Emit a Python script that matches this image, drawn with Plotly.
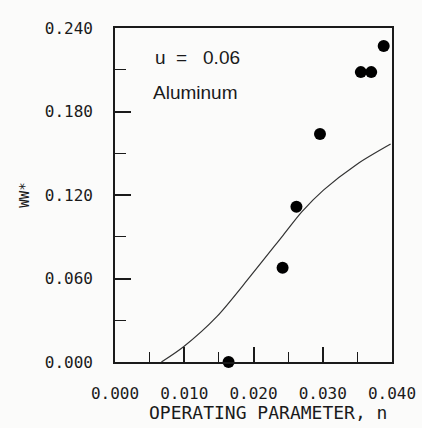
import plotly.graph_objects as go

# Data
pts_x = [0.0164, 0.0242, 0.0262, 0.0296, 0.0355, 0.0370, 0.0388]
pts_y = [0.000, 0.0677, 0.1116, 0.1638, 0.2083, 0.2083, 0.2270]

curve_x = [0.0067, 0.0099, 0.0147, 0.0195, 0.0243, 0.0270, 0.0301, 0.0349, 0.0398]
curve_y = [0.000, 0.0110, 0.0326, 0.0613, 0.0912, 0.1080, 0.1235, 0.1420, 0.1566]

x_ticks = [0.000, 0.010, 0.020, 0.030, 0.040]
y_ticks = [0.000, 0.060, 0.120, 0.180, 0.240]
x_ticklabels = ["0.000", "0.010", "0.020", "0.030", "0.040"]
y_ticklabels = ["0.000", "0.060", "0.120", "0.180", "0.240"]

mono = "DejaVu Sans Mono"
sans = "Liberation Sans"
ink = "#1a1a1a"

fig = go.Figure()
fig.add_trace(go.Scatter(x=curve_x, y=curve_y, mode="lines",
                         line=dict(color="#333333", width=1.2, shape="spline", smoothing=0.8),
                         showlegend=False, hoverinfo="skip"))
fig.add_trace(go.Scatter(x=pts_x, y=pts_y, mode="markers",
                         marker=dict(color="#000000", size=12),
                         cliponaxis=False, showlegend=False))

fig.add_annotation(x=0.0055, y=0.219, xref="x", yref="y", xanchor="left", yanchor="middle",
                   text="u\u00a0\u00a0=\u00a0\u00a0\u00a00.06", showarrow=False,
                   font=dict(family=sans, size=19, color=ink))
fig.add_annotation(x=0.0052, y=0.194, xref="x", yref="y", xanchor="left", yanchor="middle",
                   text="Aluminum", showarrow=False,
                   font=dict(family=sans, size=19, color=ink))
fig.add_annotation(x=0.552, y=-0.15, xref="paper", yref="paper", xanchor="center", yanchor="middle",
                   text="OPERATING PARAMETER, n", showarrow=False,
                   font=dict(family=mono, size=18, color=ink))

fig.update_xaxes(range=[0, 0.04], tickvals=x_ticks, ticktext=x_ticklabels,
                 ticks="inside", ticklen=15, tickwidth=1.5, tickcolor=ink,
                 minor=dict(dtick=0.005, ticks="inside", ticklen=10, tickwidth=1.2, tickcolor=ink),
                 showline=True, linecolor=ink, linewidth=1.6, mirror=True,
                 showgrid=False, zeroline=False, ticklabelstandoff=16,
                 tickfont=dict(family=mono, size=16, color=ink),
                 automargin=False)
fig.update_yaxes(range=[0, 0.24], tickvals=y_ticks, ticktext=y_ticklabels,
                 ticks="inside", ticklen=16, tickwidth=1.5, tickcolor=ink,
                 minor=dict(dtick=0.03, ticks="inside", ticklen=11, tickwidth=1.2, tickcolor=ink),
                 showline=True, linecolor=ink, linewidth=1.6, mirror=True,
                 showgrid=False, zeroline=False, ticklabelstandoff=17,
                 tickfont=dict(family=mono, size=16, color=ink),
                 title=dict(text="WW*", standoff=12,
                            font=dict(family=mono, size=14, color=ink)),
                 automargin=False)

fig.update_layout(width=422, height=428,
                  margin=dict(l=115, r=30, t=28, b=66),
                  paper_bgcolor="#fbfbfa", plot_bgcolor="#fbfbfa",
                  showlegend=False)

fig.write_html("out.html")
